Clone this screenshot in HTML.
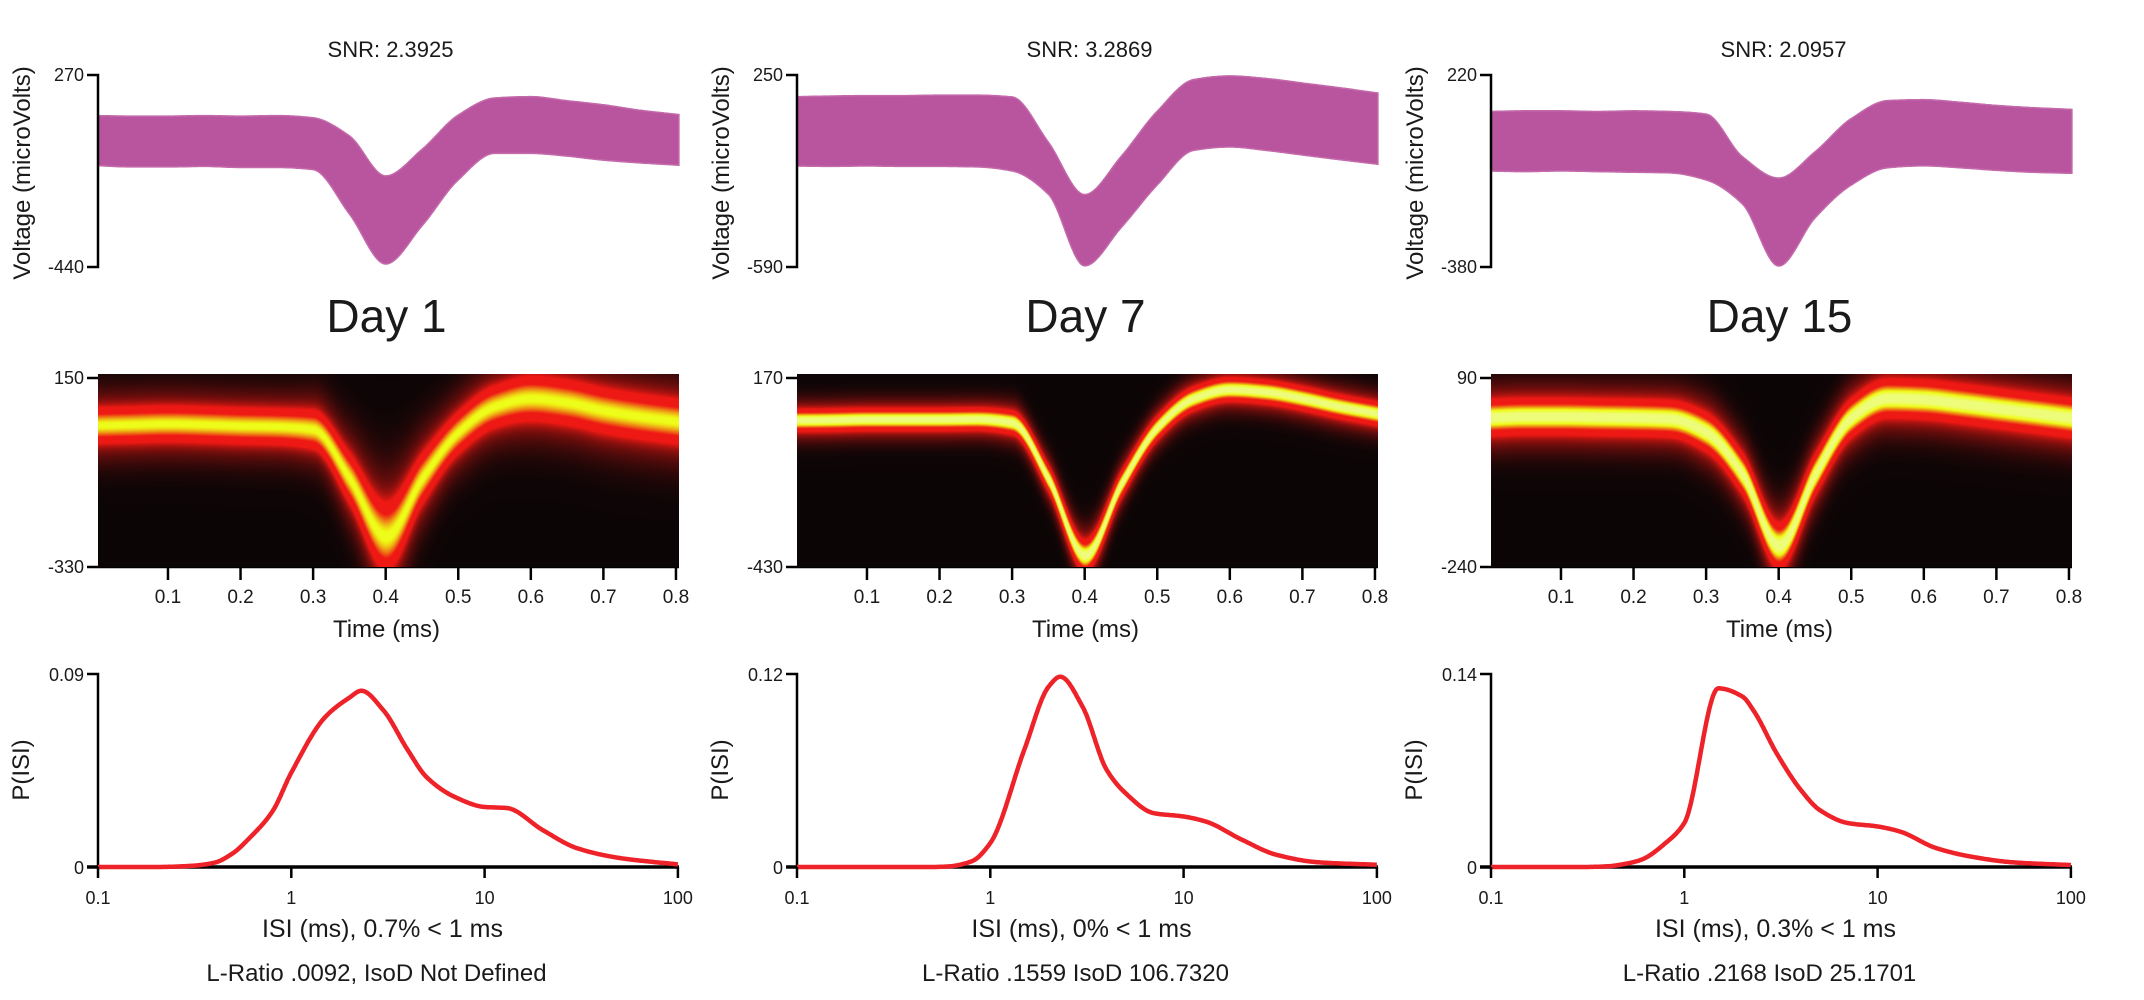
<!DOCTYPE html>
<html><head><meta charset="utf-8"><style>
html,body{margin:0;padding:0;background:#fff;width:2144px;height:1000px;overflow:hidden}
#wrap{position:relative;width:2144px;height:1000px}
svg{position:absolute;left:0;top:0}
canvas{position:absolute}
text{font-family:"Liberation Sans",Arial,sans-serif;fill:#1a1a1a}
</style></head><body>
<div id="wrap">
<svg id="svg" width="2144" height="1000"></svg>
</div>
<script>
// ---- data ----
const timeGrid = [0,0.05,0.1,0.15,0.2,0.25,0.3,0.35,0.4,0.45,0.5,0.55,0.6,0.65,0.7,0.75,0.8];
const dayLabels = ["Day 1","Day 7","Day 15"];
const snrValues = ["2.3925","3.2869","2.0957"];
const waveYMax = [270,250,220];
const waveYMin = [-440,-590,-380];
const upper1 = [120,118,118,120,118,120,112,45,-103,-5,122,185,190,175,160,140,125];
const lower1 = [-65,-70,-70,-68,-72,-72,-80,-244,-429,-288,-118,-20,-20,-30,-45,-55,-63];
const upper2 = [155,158,160,160,162,162,154,-44,-273,-107,92,230,246,235,215,195,173];
const lower2 = [-148,-150,-148,-150,-150,-152,-170,-272,-585,-419,-231,-80,-65,-80,-100,-120,-139];
const upper3 = [106,108,108,106,108,106,98,-35,-102,-20,84,140,143,135,125,118,113];
const lower3 = [-80,-82,-80,-82,-84,-86,-108,-183,-377,-227,-124,-70,-64,-70,-78,-84,-87];
const heatYMax = [150,170,90];
const heatYMin = [-330,-430,-240];
const heatCenter1 = [23,25,27,25,22,20,13,-109,-253,-109,6,70,90,80,60,45,33];
const heatCenter2 = [27,28,30,30,30,31,20,-156,-393,-172,5,95,123,115,95,70,49];
const heatCenter3 = [16,18,18,17,16,14,-9,-81,-203,-81,16,49,47,40,32,24,16];
const heatSpread1 = [24,24,24,24,24,24,26,34,46,34,28,28,30,30,30,30,30];
const heatSpread2 = [17,17,17,17,17,17,18,20,24,20,18,18,18,18,18,18,18];
const heatSpread3 = [15,15,15,15,15,15,16,17,19,17,16,16,16,16,16,16,16];
const heatPeak = [0.8,1.0,1.0];
const timeTicks = [0.1,0.2,0.3,0.4,0.5,0.6,0.7,0.8];
const isiX = [0.1,0.2,0.3,0.4,0.5,0.6,0.8,1,1.5,2,2.3,3,4,5,7,10,13,20,30,50,100];
const isi1 = [0,0,0.0005,0.002,0.0065,0.013,0.026,0.044,0.070,0.079,0.0822,0.073,0.0546,0.042,0.0327,0.028,0.0275,0.0172,0.0088,0.0042,0.0012];
const isi2 = [0,0,0,0,0,0.0003,0.0035,0.0149,0.073,0.112,0.1183,0.0997,0.0604,0.046,0.0335,0.0314,0.0283,0.017,0.0077,0.0029,0.0014];
const isi3 = [0,0,0,0.0005,0.0024,0.0053,0.0174,0.0319,0.1296,0.1236,0.1127,0.0826,0.056,0.0415,0.0319,0.0294,0.0258,0.0138,0.0077,0.0034,0.0014];
const isiYMax = [0.09,0.12,0.14];
const isiYMaxLabels = ["0.09","0.12","0.14"];
const isiTicks = [0.1,1,10,100];
const isiTickLabels = ["0.1","1","10","100"];
const isiLabels = ["ISI (ms), 0.7% < 1 ms","ISI (ms), 0% < 1 ms","ISI (ms), 0.3% < 1 ms"];
const qualityLabels = ["L-Ratio .0092, IsoD Not Defined","L-Ratio .1559 IsoD 106.7320","L-Ratio .2168 IsoD 25.1701"];

const uppers=[upper1,upper2,upper3], lowers=[lower1,lower2,lower3];
const centers=[heatCenter1,heatCenter2,heatCenter3], spreads=[heatSpread1,heatSpread2,heatSpread3];
const isis=[isi1,isi2,isi3];

// ---- layout ----
const colX=[98,797,1491], PW=581;
const W_TOP=75, W_BOT=267, H_TOP=374, H_BOT=567, I_TOP=674, I_BOT=867;
const svg=document.getElementById('svg');
const NS='http://www.w3.org/2000/svg';
function mk(tag,attrs,parent){const e=document.createElementNS(NS,tag);for(const k in attrs)e.setAttribute(k,attrs[k]);(parent||svg).appendChild(e);return e;}
function txt(s,x,y,size,anchor,parent){const t=mk('text',{x:x,y:y,'font-size':size,'text-anchor':anchor||'middle'},parent);t.textContent=s;return t;}
function pchip(xs,ys){
  const n=xs.length,h=[],d=[],m=new Array(n);
  for(let i=0;i<n-1;i++){h[i]=xs[i+1]-xs[i];d[i]=(ys[i+1]-ys[i])/h[i];}
  m[0]=d[0];m[n-1]=d[n-2];
  for(let i=1;i<n-1;i++){ if(d[i-1]*d[i]<=0)m[i]=0; else {const w1=2*h[i]+h[i-1],w2=h[i]+2*h[i-1];m[i]=(w1+w2)/(w1/d[i-1]+w2/d[i]);} }
  return function(x){let i=0;while(i<n-2&&x>xs[i+1])i++;const t=(x-xs[i])/h[i],t2=t*t,t3=t2*t;
    return (2*t3-3*t2+1)*ys[i]+(t3-2*t2+t)*h[i]*m[i]+(-2*t3+3*t2)*ys[i+1]+(t3-t2)*h[i]*m[i+1];};
}

for(let c=0;c<3;c++){
  const ax=colX[c];
  const g=mk('g',{});
  
  
  const tx=t=>ax-2.6+t*725.7;
  const fu=pchip(timeGrid,uppers[c]), fl=pchip(timeGrid,lowers[c]);
  const fc=pchip(timeGrid,centers[c]), fs=pchip(timeGrid,spreads[c]);

  // ---- waveform panel ----
  const wy=v=>W_TOP+(waveYMax[c]-v)/(waveYMax[c]-waveYMin[c])*(W_BOT-W_TOP);
  let pts=[];
  for(let t=0.004;t<=0.805;t+=0.002)pts.push(tx(t).toFixed(1)+','+wy(fu(t)).toFixed(1));
  for(let t=0.804;t>=0.003;t-=0.002)pts.push(tx(t).toFixed(1)+','+wy(fl(t)).toFixed(1));
  const band=mk('polygon',{points:pts.join(' '),fill:'#b8559e',stroke:'#c46aab','stroke-width':1.5},g);
  
  
  const wa=mk('path',{d:`M${ax-11},${W_TOP}H${ax}V${W_BOT}H${ax-11}`,stroke:'#000','stroke-width':2.5,fill:'none'},g);
  
  
  txt(String(waveYMax[c]),ax-14,W_TOP+6,18,'end',g);
  txt(String(waveYMin[c]),ax-14,W_BOT+6,18,'end',g);
  const vl=txt('Voltage (microVolts)',0,0,24,'middle',g);
  vl.setAttribute('transform',`translate(${ax-68},173) rotate(-90)`);
  
  
  const snr=txt('SNR:  '+snrValues[c],ax+PW/2+2,57,22,'middle',g);
  
  
  const day=txt(dayLabels[c],ax+PW/2-2,332,46,'middle',g);
  
  

  // ---- heatmap ----
  const cv=document.createElement('canvas');
  cv.width=PW;cv.height=H_BOT-H_TOP;
  cv.style.left=ax+'px';cv.style.top=H_TOP+'px';
  
  
  document.getElementById('wrap').appendChild(cv);
  const ctx=cv.getContext('2d'),img=ctx.createImageData(cv.width,cv.height),D=img.data;
  const range=heatYMax[c]-heatYMin[c];
  for(let i=0;i<cv.width;i++){
    const t=(i+2.6)/725.7, cen=fc(t), sd=fs(t);
    for(let j=0;j<cv.height;j++){
      const v=heatYMax[c]-j/cv.height*range, d=(v-cen)/sd;
      let s=(Math.exp(-d*d/2)*0.85+0.3*Math.exp(-d*d/12))*heatPeak[c];
      const r=Math.min(1,s/0.3),gg=Math.min(1,Math.max(0,(s-0.55)/0.35)),b=Math.min(1,Math.max(0,(s-0.9)/0.2));
      const k=(j*cv.width+i)*4;
      D[k]=12+r*(238-12);D[k+1]=5+gg*(232-5)+r*20;D[k+2]=6+b*(110-6)+r*14;D[k+3]=255;
    }
  }
  ctx.putImageData(img,0,0);
  const ha=mk('path',{d:`M${ax-11},${H_TOP+4}H${ax} M${ax-11},${H_BOT}H${ax+PW}`,stroke:'#000','stroke-width':2.5,fill:'none'},g);
  
  
  txt(String(heatYMax[c]),ax-14,H_TOP+10,18,'end',g);
  txt(String(heatYMin[c]),ax-14,H_BOT+6,18,'end',g);
  timeTicks.forEach(tk=>{
    const x=tx(tk);
    const tm=mk('line',{x1:x,x2:x,y1:H_BOT,y2:H_BOT+13,stroke:'#000','stroke-width':2.5},g);
    
    
    txt(String(tk),x,603,19,'middle',g);
  });
  const tl=txt('Time (ms)',ax+PW/2-2,637,24,'middle',g);
  
  

  // ---- ISI ----
  const lx=v=>ax+(Math.log10(v)+1)*193.3;
  const iy=v=>I_BOT-v/isiYMax[c]*(I_BOT-I_TOP);
  const ia=mk('path',{d:`M${ax-11},${I_TOP}H${ax}V${I_BOT}`,stroke:'#000','stroke-width':2.5,fill:'none'},g);
  
  
  const xa=mk('line',{x1:ax-11,x2:ax+PW,y1:I_BOT,y2:I_BOT,stroke:'#000','stroke-width':3.5},g);
  
  
  const f=pchip(isiX.map(Math.log10),isis[c]);
  let d='';
  for(let k=0;k<=600;k++){const lv=-1+3*k/600,v=Math.max(0,f(lv));d+=(k?'L':'M')+lx(Math.pow(10,lv)).toFixed(1)+','+iy(v).toFixed(1);}
  const line=mk('path',{d:d,stroke:'#ee2229','stroke-width':4.5,fill:'none','stroke-linejoin':'round'},g);
  
  
  isiTicks.forEach((tk,i)=>{
    const x=lx(tk);
    const tm=mk('line',{x1:x,x2:x,y1:I_BOT,y2:I_BOT+11,stroke:'#000','stroke-width':2.5},g);
    
    
    txt(isiTickLabels[i],x,904,18,'middle',g);
  });
  txt(isiYMaxLabels[c],ax-14,I_TOP+7,18,'end',g);
  txt('0',ax-14,I_BOT+7,18,'end',g);
  const pl=txt('P(ISI)',0,0,24,'middle',g);
  pl.setAttribute('transform',`translate(${ax-69},770) rotate(-90)`);
  
  
  const il=txt(isiLabels[c],ax+PW/2-6,937,25,'middle',g);
  
  
  const ql=txt(qualityLabels[c],ax+PW/2-12,981,24,'middle',g);
  
  
}
</script>
</body></html>
